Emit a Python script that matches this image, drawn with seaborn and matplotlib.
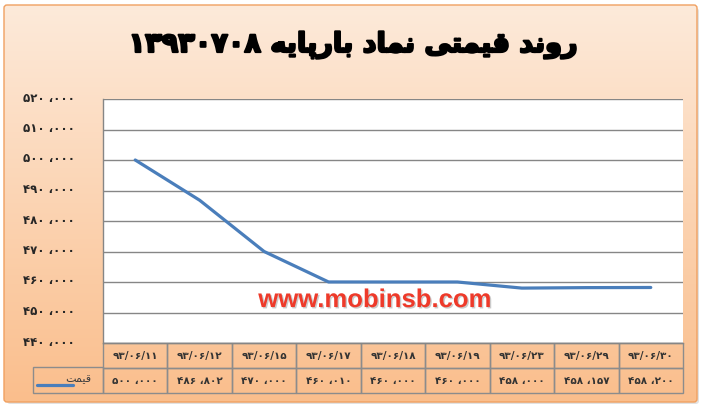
import numpy as np
import pandas as pd
import matplotlib.pyplot as plt
import matplotlib.transforms as mtrans
from matplotlib.patches import FancyBboxPatch, Rectangle
from matplotlib.lines import Line2D
import matplotlib.patheffects as pe
import seaborn as sns

# داده‌ها
dates = ['93/06/11', '93/06/12', '93/06/15', '93/06/17', '93/06/18',
         '93/06/19', '93/06/23', '93/06/29', '93/06/30']
prices = [500000, 486802, 470000, 460010, 460000, 460000, 458000, 458157, 458200]
yticks = [440000, 450000, 460000, 470000, 480000, 490000, 500000, 510000, 520000]
title_words = 'روند قیمتی نماد بارپایه'
title_num = '13930708'
series_name = 'قیمت'
watermark = 'www.mobinsb.com'

FA = str.maketrans('0123456789', '۰۱۲۳۴۵۶۷۸۹')

# شکل‌دهی ساده حروف فارسی (matplotlib خودش حروف را به هم نمی‌چسباند)
FORMS = {
    'ا': ('\uFE8D', '\uFE8E', None, None),
    'ب': ('\uFE8F', '\uFE90', '\uFE91', '\uFE92'),
    'پ': ('\uFB56', '\uFB57', '\uFB58', '\uFB59'),
    'ت': ('\uFE95', '\uFE96', '\uFE97', '\uFE98'),
    'د': ('\uFEA9', '\uFEAA', None, None),
    'ر': ('\uFEAD', '\uFEAE', None, None),
    'ق': ('\uFED5', '\uFED6', '\uFED7', '\uFED8'),
    'م': ('\uFEE1', '\uFEE2', '\uFEE3', '\uFEE4'),
    'ن': ('\uFEE5', '\uFEE6', '\uFEE7', '\uFEE8'),
    'ه': ('\uFEE9', '\uFEEA', '\uFEEB', '\uFEEC'),
    'و': ('\uFEED', '\uFEEE', None, None),
    'ی': ('\uFBFC', '\uFBFD', '\uFBFE', '\uFBFF'),
}


def shape(text):
    out = []
    for i, c in enumerate(text):
        f = FORMS.get(c)
        if f is None:
            out.append(c)
            continue
        prev = text[i - 1] if i > 0 else None
        nxt = text[i + 1] if i + 1 < len(text) else None
        jp = prev in FORMS and FORMS[prev][2] is not None
        jn = f[2] is not None and nxt in FORMS
        if jp and jn:
            out.append(f[3])
        elif jp:
            out.append(f[1])
        elif jn:
            out.append(f[2])
        else:
            out.append(f[0])
    return ''.join(out)[::-1]


def fa_num(v):
    s = f'{v:,}'.replace(',', ' ،')
    return s.translate(FA)


sns.set_theme(style='white')
plt.rcParams['font.family'] = ['DejaVu Sans']

fig = plt.figure(figsize=(7.07, 4.12), dpi=100)
fig.patch.set_facecolor('white')

# پس‌زمینه گرادیانی
bg = fig.add_axes([0, 0, 1, 1], zorder=-10)
bg.set_axis_off()
bg.set_xlim(0, 707)
bg.set_ylim(412, 0)
grad = np.linspace(0, 1, 256).reshape(-1, 1)
top_c = np.array([253, 234, 218]) / 255
bot_c = np.array([250, 190, 140]) / 255
img = top_c + (bot_c - top_c) * grad[..., None]
bg.add_patch(FancyBboxPatch((7, 8), 692, 396, boxstyle='round,pad=0,rounding_size=3',
                            facecolor='#d0d0d0', edgecolor='none', alpha=0.6, zorder=0))
im = bg.imshow(img, extent=[4, 697, 402, 5], aspect='auto', zorder=1)
frame = FancyBboxPatch((4, 5), 693, 397, boxstyle='round,pad=0,rounding_size=3',
                       facecolor='none', edgecolor='#F0A060', linewidth=1, zorder=2)
bg.add_patch(frame)
im.set_clip_path(frame)

fig.text(0.5, 1 - 45 / 412, title_num.translate(FA) + ' ' + shape(title_words),
         ha='center', va='center', fontsize=19.5, fontweight='bold', color='black',
         path_effects=[pe.withStroke(linewidth=1.6, foreground='black')])

# محور اصلی
ax = fig.add_axes([103 / 707, 1 - 343 / 412, 580 / 707, 244 / 412])
ax.set_facecolor('white')
df = pd.DataFrame({'date': dates, 'price': prices})
sns.lineplot(data=df, x='date', y='price', ax=ax, color='#4A7EBB', linewidth=2.3,
             sort=False, legend=False)
ax.set_xlim(-0.5, len(dates) - 0.5)
ax.set_ylim(yticks[0], yticks[-1])
ax.set_yticks(yticks)
ax.set_yticklabels([fa_num(v) for v in yticks], fontsize=8.5, fontweight='bold', color='#262626')
ax.tick_params(axis='y', length=0, pad=20)
lift = mtrans.ScaledTranslation(0, 2.5 / 100, fig.dpi_scale_trans)
for lab in ax.get_yticklabels():
    lab.set_transform(lab.get_transform() + lift)
ax.set_xticks([])
ax.set_xlabel('')
ax.set_ylabel('')
ax.grid(axis='y', color='#868686', linewidth=1)
for s in ['top', 'right']:
    ax.spines[s].set_visible(False)
for s in ['left', 'bottom']:
    ax.spines[s].set_color('#868686')
    ax.spines[s].set_linewidth(1)

ax.text(0.469, 0.176, watermark, transform=ax.transAxes, ha='center', va='center',
        fontsize=18.5, fontweight='bold', color='#EE3A2A', family='Liberation Sans',
        path_effects=[pe.withSimplePatchShadow(offset=(1, -1), shadow_rgbFace='#999999', alpha=0.5)])

# جدول داده
cells = [[d.translate(FA) for d in dates], [fa_num(v) for v in prices]]
tab = ax.table(cellText=cells, cellLoc='center', bbox=[0, -0.205, 1, 0.205])
tab.auto_set_font_size(False)
tab.set_fontsize(7.5)
for (r, c), cell in tab.get_celld().items():
    cell.set_edgecolor('#8c8c8c')
    cell.set_facecolor('none')
    cell.set_linewidth(1)
    cell.get_text().set_fontweight('bold')
    cell.get_text().set_color('#333333')

# خانه راهنما
x0 = (33 - 103) / 580
ax.add_patch(Rectangle((x0, -0.205), -x0, 0.107, transform=ax.transAxes,
                       facecolor='none', edgecolor='#8c8c8c', linewidth=1, clip_on=False))
ax.add_line(Line2D([(37 - 103) / 580, (73 - 103) / 580], [-0.172, -0.172],
                   transform=ax.transAxes, color='#4A7EBB', linewidth=2.3, clip_on=False))
ax.text((91 - 103) / 580, -0.148, shape(series_name), transform=ax.transAxes,
        ha='right', va='center', fontsize=8, color='#404040')

fig.savefig('out.png', dpi=100)
